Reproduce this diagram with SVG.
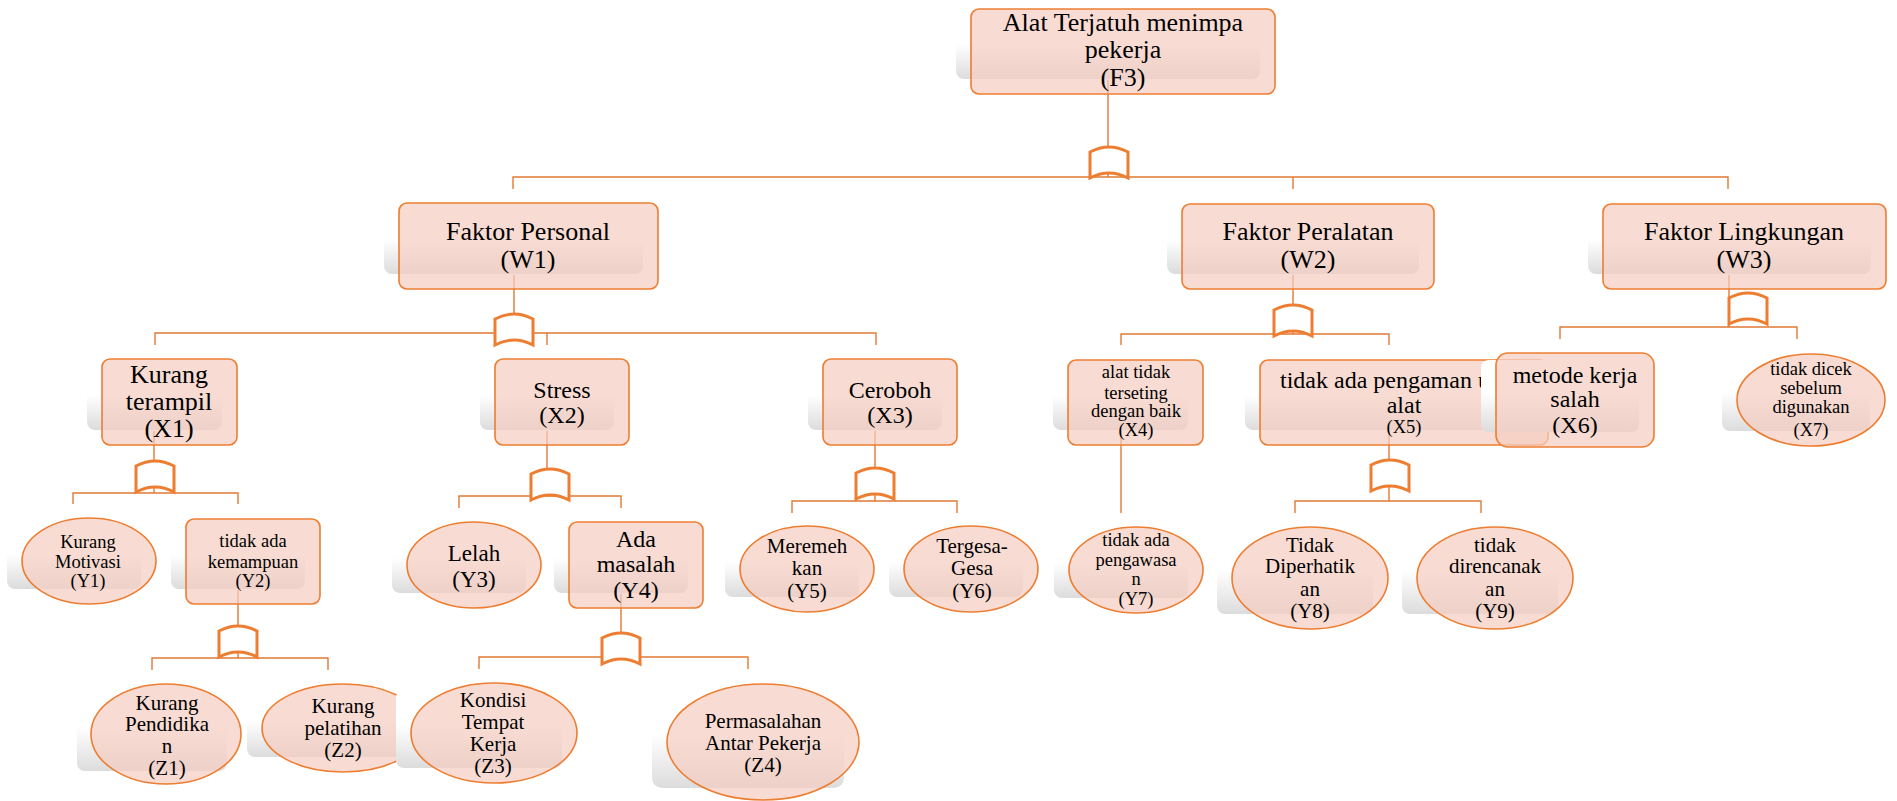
<svg xmlns="http://www.w3.org/2000/svg" xmlns:xlink="http://www.w3.org/1999/xlink" width="1897" height="801" viewBox="0 0 1897 801">
  <defs>
    <linearGradient id="shade" x1="0" y1="0" x2="0" y2="1">
      <stop offset="0" stop-color="#ffffff"/>
      <stop offset="0.45" stop-color="#ffffff"/>
      <stop offset="1" stop-color="#dcdcdc"/>
    </linearGradient>
    <clipPath id="clipZ2">
      <rect x="0" y="600" width="397" height="201"/>
    </clipPath>
    <!-- OR gate symbol, 38 x 31 -->
    <path id="gate" d="M0,31 V5 Q19,-5 38,5 V31 Q19,21 0,31 Z"/>
  </defs>
  <style>
    .box{fill:#F5CDC0;fill-opacity:.7;stroke:#ED7D31;stroke-width:1.6}
    .sh{fill:url(#shade)}
    .ln{stroke:#E07A35;stroke-width:1.4;fill:none}
    .gate{fill:#ffffff;stroke:#ED7D31;stroke-width:3}
    text{font-family:"Liberation Serif","Times New Roman",serif;fill:#000;text-anchor:middle}
    .f26{font-size:26px}
    .f24{font-size:24px}
    .f23{font-size:23px}
    .f21{font-size:21px}
    .f18{font-size:18.5px}
  </style>

  <rect width="1897" height="801" fill="#ffffff"/>

  <!-- connectors -->
  <g id="connectors">
    <path class="ln" d="M1108,80 V177 M513,189 V177 H1728 V189 M1293,177 V189"/>
    <path class="ln" d="M514,275 V333 M155,345 V333 H876 V345 M547,333 V345"/>
    <path class="ln" d="M154,431 V493 M73,504 V493 H238 V504"/>
    <path class="ln" d="M238,590 V658 M152,670 V658 H328 V670"/>
    <path class="ln" d="M547,431 V496 M459,508 V496 H621 V508"/>
    <path class="ln" d="M621,594 V657 M479,669 V657 H748 V669"/>
    <path class="ln" d="M875,431 V501 M792,513 V501 H957 V513"/>
    <path class="ln" d="M1293,275 V334 M1121,345 V334 H1389 V345"/>
    <path class="ln" d="M1121,431 V513"/>
    <path class="ln" d="M1389,431 V501 M1295,513 V501 H1481 V513"/>
    <path class="ln" d="M1729,275 V327 M1560,339 V327 H1797 V339"/>
    <use xlink:href="#gate" class="gate" x="1090" y="147"/>
    <use xlink:href="#gate" class="gate" x="495" y="314"/>
    <use xlink:href="#gate" class="gate" x="136" y="461"/>
    <use xlink:href="#gate" class="gate" x="219" y="626"/>
    <use xlink:href="#gate" class="gate" x="531" y="469"/>
    <use xlink:href="#gate" class="gate" x="602" y="633"/>
    <use xlink:href="#gate" class="gate" x="856" y="468"/>
    <use xlink:href="#gate" class="gate" x="1274" y="305"/>
    <use xlink:href="#gate" class="gate" x="1371" y="460"/>
    <use xlink:href="#gate" class="gate" x="1729" y="293"/>
  </g>

  <!-- top event -->
  <g id="F3">
    <rect class="sh" x="956" y="16" width="304" height="63" rx="8"/>
    <rect class="box" x="971" y="9" width="304" height="85" rx="8"/>
    <text class="f26" x="1123" y="31">Alat Terjatuh menimpa</text>
    <text class="f26" x="1123" y="58">pekerja</text>
    <text class="f26" x="1123" y="86">(F3)</text>
  </g>

  <!-- factor level -->
  <g id="W1">
    <rect class="sh" x="384" y="210" width="259" height="64" rx="8"/>
    <rect class="box" x="399" y="203" width="259" height="86" rx="8"/>
    <text class="f26" x="528" y="240">Faktor Personal</text>
    <text class="f26" x="528" y="268">(W1)</text>
  </g>
  <g id="W2">
    <rect class="sh" x="1167" y="211" width="252" height="63" rx="8"/>
    <rect class="box" x="1182" y="204" width="252" height="85" rx="8"/>
    <text class="f26" x="1308" y="240">Faktor Peralatan</text>
    <text class="f26" x="1308" y="268">(W2)</text>
  </g>
  <g id="W3">
    <rect class="sh" x="1588" y="211" width="283" height="63" rx="8"/>
    <rect class="box" x="1603" y="204" width="283" height="85" rx="8"/>
    <text class="f26" x="1744" y="240">Faktor Lingkungan</text>
    <text class="f26" x="1744" y="268">(W3)</text>
  </g>

  <!-- second level -->
  <g id="X1">
    <rect class="sh" x="87" y="366" width="135" height="64" rx="8"/>
    <rect class="box" x="102" y="359" width="135" height="86" rx="8"/>
    <text class="f26" x="169" y="383">Kurang</text>
    <text class="f26" x="169" y="410">terampil</text>
    <text class="f26" x="169" y="437">(X1)</text>
  </g>
  <g id="X2">
    <rect class="sh" x="480" y="366" width="134" height="64" rx="8"/>
    <rect class="box" x="495" y="359" width="134" height="86" rx="8"/>
    <text class="f24" x="562" y="398">Stress</text>
    <text class="f24" x="562" y="423">(X2)</text>
  </g>
  <g id="X3">
    <rect class="sh" x="808" y="366" width="134" height="64" rx="8"/>
    <rect class="box" x="823" y="359" width="134" height="86" rx="8"/>
    <text class="f24" x="890" y="398">Ceroboh</text>
    <text class="f24" x="890" y="423">(X3)</text>
  </g>
  <g id="X4">
    <rect class="sh" x="1053" y="367" width="135" height="63" rx="8"/>
    <rect class="box" x="1068" y="360" width="135" height="85" rx="8"/>
    <text class="f18" x="1136" y="378">alat tidak</text>
    <text class="f18" x="1136" y="399">terseting</text>
    <text class="f18" x="1136" y="417">dengan baik</text>
    <text class="f18" x="1136" y="436">(X4)</text>
  </g>
  <g id="X5">
    <rect class="sh" x="1245" y="367" width="288" height="63" rx="8"/>
    <rect class="box" x="1260" y="360" width="288" height="85" rx="8"/>
    <text class="f24" x="1280" y="388" style="text-anchor:start">tidak ada pengaman u</text>
    <text class="f24" x="1404" y="413">alat</text>
    <text class="f18" x="1404" y="433">(X5)</text>
  </g>
  <g id="X6">
    <rect class="sh" x="1481" y="360" width="158" height="72" rx="8"/>
    <rect class="box" x="1496" y="353" width="158" height="94" rx="12"/>
    <text class="f24" x="1575" y="383">metode kerja</text>
    <text class="f24" x="1575" y="407">salah</text>
    <text class="f24" x="1575" y="433">(X6)</text>
  </g>
  <g id="X7">
    <rect class="sh" x="1722" y="361" width="148" height="70" rx="8"/>
    <ellipse class="box" cx="1811" cy="400" rx="74" ry="46"/>
    <text class="f18" x="1811" y="375">tidak dicek</text>
    <text class="f18" x="1811" y="394">sebelum</text>
    <text class="f18" x="1811" y="413">digunakan</text>
    <text class="f18" x="1811" y="436">(X7)</text>
  </g>

  <!-- third level -->
  <g id="Y1">
    <rect class="sh" x="7" y="525" width="134" height="64" rx="8"/>
    <ellipse class="box" cx="89" cy="561" rx="67" ry="43"/>
    <text class="f18" x="88" y="548">Kurang</text>
    <text class="f18" x="88" y="568">Motivasi</text>
    <text class="f18" x="88" y="587">(Y1)</text>
  </g>
  <g id="Y2">
    <rect class="sh" x="171" y="526" width="134" height="63" rx="8"/>
    <rect class="box" x="186" y="519" width="134" height="85" rx="8"/>
    <text class="f18" x="253" y="547">tidak ada</text>
    <text class="f18" x="253" y="568">kemampuan</text>
    <text class="f18" x="253" y="587">(Y2)</text>
  </g>
  <g id="Y3">
    <rect class="sh" x="392" y="529" width="134" height="64" rx="8"/>
    <ellipse class="box" cx="474" cy="565" rx="67" ry="43"/>
    <text class="f23" x="474" y="561">Lelah</text>
    <text class="f23" x="474" y="587">(Y3)</text>
  </g>
  <g id="Y4">
    <rect class="sh" x="554" y="529" width="134" height="64" rx="8"/>
    <rect class="box" x="569" y="522" width="134" height="86" rx="8"/>
    <text class="f24" x="636" y="547">Ada</text>
    <text class="f24" x="636" y="572">masalah</text>
    <text class="f24" x="636" y="598">(Y4)</text>
  </g>
  <g id="Y5">
    <rect class="sh" x="725" y="533" width="134" height="64" rx="8"/>
    <ellipse class="box" cx="807" cy="569" rx="67" ry="43"/>
    <text class="f21" x="807" y="553">Meremeh</text>
    <text class="f21" x="807" y="575">kan</text>
    <text class="f21" x="807" y="598">(Y5)</text>
  </g>
  <g id="Y6">
    <rect class="sh" x="889" y="533" width="134" height="64" rx="8"/>
    <ellipse class="box" cx="971" cy="569" rx="67" ry="43"/>
    <text class="f21" x="972" y="553">Tergesa-</text>
    <text class="f21" x="972" y="575">Gesa</text>
    <text class="f21" x="972" y="598">(Y6)</text>
  </g>
  <g id="Y7">
    <rect class="sh" x="1054" y="534" width="134" height="64" rx="8"/>
    <ellipse class="box" cx="1136" cy="570" rx="67" ry="43"/>
    <text class="f18" x="1136" y="546">tidak ada</text>
    <text class="f18" x="1136" y="566">pengawasa</text>
    <text class="f18" x="1136" y="585">n</text>
    <text class="f18" x="1136" y="605">(Y7)</text>
  </g>
  <g id="Y8">
    <rect class="sh" x="1217" y="534" width="156" height="80" rx="8"/>
    <ellipse class="box" cx="1310" cy="578" rx="78" ry="51"/>
    <text class="f21" x="1310" y="552">Tidak</text>
    <text class="f21" x="1310" y="573">Diperhatik</text>
    <text class="f21" x="1310" y="596">an</text>
    <text class="f21" x="1310" y="618">(Y8)</text>
  </g>
  <g id="Y9">
    <rect class="sh" x="1402" y="534" width="156" height="80" rx="8"/>
    <ellipse class="box" cx="1495" cy="578" rx="78" ry="51"/>
    <text class="f21" x="1495" y="552">tidak</text>
    <text class="f21" x="1495" y="573">direncanak</text>
    <text class="f21" x="1495" y="596">an</text>
    <text class="f21" x="1495" y="618">(Y9)</text>
  </g>

  <!-- fourth level -->
  <g id="Z1">
    <rect class="sh" x="77" y="691" width="150" height="80" rx="8"/>
    <ellipse class="box" cx="166" cy="734" rx="75" ry="50"/>
    <text class="f21" x="167" y="710">Kurang</text>
    <text class="f21" x="167" y="731">Pendidika</text>
    <text class="f21" x="167" y="753">n</text>
    <text class="f21" x="167" y="775">(Z1)</text>
  </g>
  <g id="Z2" clip-path="url(#clipZ2)">
    <rect class="sh" x="247" y="691" width="162" height="66" rx="8"/>
    <ellipse class="box" cx="343" cy="728" rx="81" ry="44"/>
    <text class="f21" x="343" y="713">Kurang</text>
    <text class="f21" x="343" y="735">pelatihan</text>
    <text class="f21" x="343" y="757">(Z2)</text>
  </g>
  <g id="Z3">
    <rect class="sh" x="396" y="690" width="166" height="78" rx="8"/>
    <ellipse class="box" cx="494" cy="733" rx="83" ry="50"/>
    <text class="f21" x="493" y="707">Kondisi</text>
    <text class="f21" x="493" y="729">Tempat</text>
    <text class="f21" x="493" y="751">Kerja</text>
    <text class="f21" x="493" y="773">(Z3)</text>
  </g>
  <g id="Z4">
    <rect class="sh" x="652" y="690" width="192" height="98" rx="10"/>
    <ellipse class="box" cx="763" cy="742" rx="96" ry="58"/>
    <text class="f21" x="763" y="728">Permasalahan</text>
    <text class="f21" x="763" y="750">Antar Pekerja</text>
    <text class="f21" x="763" y="772">(Z4)</text>
  </g>
</svg>
